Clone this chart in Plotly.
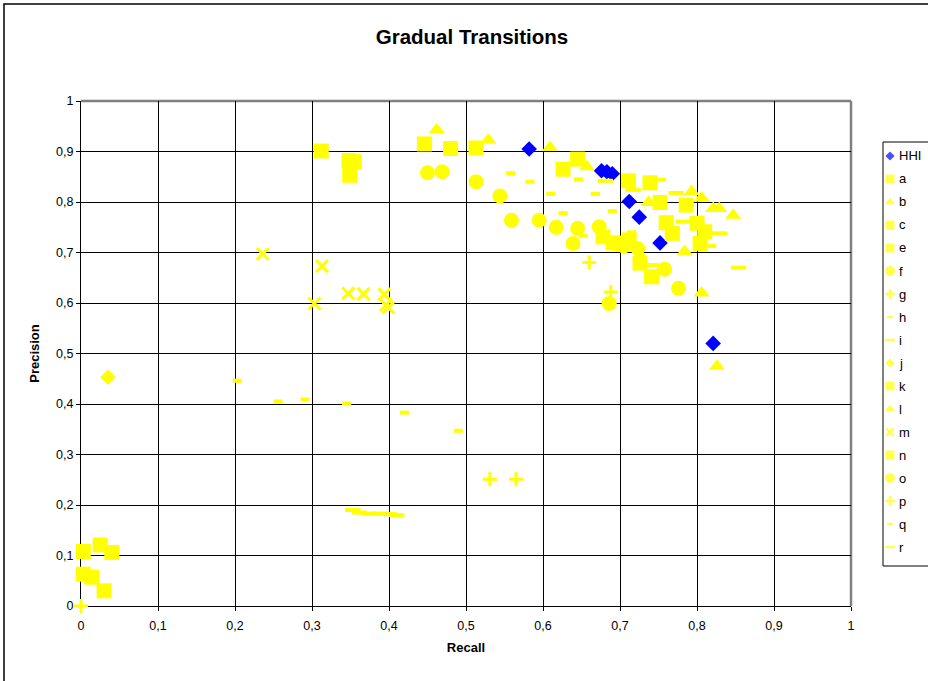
import plotly.graph_objects as go

# Recall / precision pairs per method
hhi_recall = [0.582, 0.676, 0.683, 0.690, 0.712, 0.725, 0.752, 0.821]
hhi_precision = [0.905, 0.862, 0.860, 0.856, 0.801, 0.770, 0.719, 0.520]

a_recall = [0.446, 0.480, 0.513, 0.626, 0.645]
a_precision = [0.915, 0.906, 0.907, 0.865, 0.885]

b_recall = [0.462, 0.529, 0.609, 0.657, 0.737]
b_precision = [0.943, 0.923, 0.908, 0.870, 0.799]

c_recall = [0.312, 0.348, 0.355, 0.349]
c_precision = [0.901, 0.882, 0.880, 0.853]

e_recall = [0.711, 0.739, 0.752, 0.786, 0.800, 0.810, 0.804]
e_precision = [0.842, 0.838, 0.799, 0.794, 0.758, 0.741, 0.718]

f_recall = [0.450, 0.469, 0.513, 0.544, 0.559, 0.595]
f_precision = [0.858, 0.860, 0.840, 0.812, 0.764, 0.764]

g_recall = [0.660, 0.688]
g_precision = [0.680, 0.622]

h_recall = [0.203, 0.256, 0.291, 0.345, 0.420, 0.490]
h_precision = [0.446, 0.405, 0.409, 0.401, 0.383, 0.347]

i_recall = [0.353, 0.362, 0.375, 0.388, 0.400, 0.410]
i_precision = [0.190, 0.185, 0.183, 0.183, 0.182, 0.180]

j_recall = [0.035]
j_precision = [0.453]

k_recall = [0.003, 0.025, 0.040, 0.003, 0.014, 0.030]
k_precision = [0.108, 0.121, 0.106, 0.063, 0.057, 0.030]

l_recall = [0.793, 0.806, 0.821, 0.829, 0.847, 0.784, 0.806, 0.826]
l_precision = [0.821, 0.808, 0.787, 0.787, 0.774, 0.702, 0.620, 0.475]

m_recall = [0.236, 0.313, 0.303, 0.347, 0.367, 0.394, 0.396, 0.399]
m_precision = [0.697, 0.673, 0.599, 0.619, 0.618, 0.617, 0.596, 0.591]

n_recall = [0.678, 0.691, 0.700, 0.712, 0.726, 0.741, 0.760, 0.768]
n_precision = [0.731, 0.719, 0.718, 0.725, 0.679, 0.652, 0.759, 0.738]

o_recall = [0.617, 0.645, 0.639, 0.673, 0.686, 0.705, 0.723, 0.726, 0.758, 0.776]
o_precision = [0.750, 0.748, 0.718, 0.751, 0.599, 0.713, 0.708, 0.685, 0.667, 0.629]

p_recall = [0.0, 0.531, 0.565]
p_precision = [0.0, 0.251, 0.251]

q_recall = [0.558, 0.583, 0.610, 0.626, 0.646, 0.668, 0.690, 0.652, 0.715]
q_precision = [0.857, 0.840, 0.816, 0.778, 0.845, 0.816, 0.782, 0.733, 0.740]

r_recall = [0.681, 0.717, 0.750, 0.773, 0.782, 0.829, 0.815, 0.854, 0.741]
r_precision = [0.842, 0.824, 0.844, 0.818, 0.761, 0.738, 0.713, 0.670, 0.675]

YELLOW = "#FFFF00"
BLUE = "#0000FF"
FONT = "Arial, Liberation Sans, sans-serif"

# name, x, y, symbol, plot size, legend size, colour, stroke width
series = [
    ("HHI", hhi_recall, hhi_precision, "diamond", 12, 7, BLUE, 0),
    ("a", a_recall, a_precision, "square", 15, 9, YELLOW, 0),
    ("b", b_recall, b_precision, "triangle-up", 14, 9, YELLOW, 0),
    ("c", c_recall, c_precision, "square", 15, 9, YELLOW, 0),
    ("e", e_recall, e_precision, "square", 15, 9, YELLOW, 0),
    ("f", f_recall, f_precision, "circle", 15, 10, YELLOW, 0),
    ("g", g_recall, g_precision, "cross-thin-open", 10, 7, YELLOW, 3),
    ("h", h_recall, h_precision, "line-ew-open", 6.5, 4, YELLOW, 4),
    ("i", i_recall, i_precision, "line-ew-open", 11, 7, YELLOW, 4),
    ("j", j_recall, j_precision, "diamond", 12, 7, YELLOW, 0),
    ("k", k_recall, k_precision, "square", 15, 9, YELLOW, 0),
    ("l", l_recall, l_precision, "triangle-up", 14, 9, YELLOW, 0),
    ("m", m_recall, m_precision, "x-thin-open", 12, 7, YELLOW, 3),
    ("n", n_recall, n_precision, "square", 15, 9, YELLOW, 0),
    ("o", o_recall, o_precision, "circle", 15, 10, YELLOW, 0),
    ("p", p_recall, p_precision, "cross-thin-open", 10, 7, YELLOW, 3),
    ("q", q_recall, q_precision, "line-ew-open", 6.5, 4, YELLOW, 4),
    ("r", r_recall, r_precision, "line-ew-open", 11, 7, YELLOW, 4),
]

W, H = 928, 681
L, T, B = 81, 101, 75          # margins (right margin is zero; legend lives in the right strip)
PLOT_W = W - L                 # 847
MAIN_W = 770                   # width of the scatter area
PLOT_H = H - T - B             # 505

TICK_SIZE = 12.5
LABEL_SIZE = 13

fig = go.Figure()
for name, xs, ys, symbol, size, _, color, lw in series:
    marker = dict(symbol=symbol, size=size, color=color,
                  line=dict(color=color, width=lw))
    fig.add_trace(go.Scatter(
        x=xs, y=ys, mode="markers", name=name, marker=marker,
        cliponaxis=False, showlegend=False, xaxis="x", yaxis="y",
    ))

# Legend drawn on its own small axis pair: one symbol per row, label beside it
n_items = len(series)
row_idx = list(range(n_items))
fig.add_trace(go.Scatter(
    x=[7] * n_items, y=row_idx, mode="markers",
    marker=dict(
        symbol=[s[3] for s in series],
        size=[s[5] for s in series],
        color=[s[6] for s in series],
        line=dict(color=[s[6] for s in series],
                  width=[min(s[7], 2.5) for s in series]),
    ),
    cliponaxis=False, showlegend=False, hoverinfo="skip",
    xaxis="x2", yaxis="y2",
))
for idx, s in enumerate(series):
    fig.add_annotation(
        x=14, y=idx, xref="x2", yref="y2", text=s[0], showarrow=False,
        xanchor="left", yanchor="middle",
        font=dict(family=FONT, size=LABEL_SIZE, color="#000000"),
    )

axis_common = dict(
    range=[0, 1], dtick=0.1, tick0=0,
    showgrid=True, gridcolor="#000000", gridwidth=1,
    showline=True, linecolor="#000000", linewidth=1,
    ticks="outside", ticklen=4, tickcolor="#000000",
    tickfont=dict(family=FONT, size=TICK_SIZE, color="#000000"),
    zeroline=False, mirror=False, layer="below traces",
)

legend_top, legend_bottom = 142, 566
row_gap = 23.0
first_row = 14.0
leg_box_h = legend_bottom - legend_top
y2_top = -first_row / row_gap
y2_bottom = y2_top + leg_box_h / row_gap

fig.update_layout(
    width=W, height=H,
    paper_bgcolor="#FFFFFF", plot_bgcolor="#FFFFFF",
    separators=",.",
    margin=dict(l=L, r=0, t=T, b=B, autoexpand=False),
    showlegend=False,
    title=dict(text="<b>Gradual Transitions</b>", xref="container", x=472 / W,
               xanchor="center", y=1 - 37 / H, yanchor="middle",
               font=dict(family=FONT, size=20.5, color="#000000")),
    xaxis=dict(axis_common, domain=[0, MAIN_W / PLOT_W], ticklabelstandoff=4,
               title=dict(text="<b>Recall</b>", standoff=10,
                          font=dict(family=FONT, size=LABEL_SIZE, color="#000000"))),
    yaxis=dict(axis_common,
               title=dict(text="<b>Precision</b>", standoff=13,
                          font=dict(family=FONT, size=LABEL_SIZE, color="#000000"))),
    xaxis2=dict(domain=[(883 - L) / PLOT_W, 1.0], range=[0, W - 883],
                visible=False, anchor="y2", fixedrange=True),
    yaxis2=dict(domain=[(606 - legend_bottom) / PLOT_H, (606 - legend_top) / PLOT_H],
                range=[y2_bottom, y2_top], visible=False, anchor="x2", fixedrange=True),
)

# Plot area frame (grey top/right edges)
fig.add_shape(type="line", xref="x domain", yref="y domain", x0=0, y0=1, x1=1, y1=1,
              line=dict(color="#808080", width=2.5), layer="below")
fig.add_shape(type="line", xref="x domain", yref="y domain", x0=1, y0=0, x1=1, y1=1,
              line=dict(color="#808080", width=2.5), layer="below")
# Legend frame
fig.add_shape(type="rect", xref="x2 domain", yref="y2 domain", x0=0, y0=0, x1=1.2, y1=1,
              line=dict(color="#000000", width=1), layer="below")
# Outer chart border
fig.add_shape(type="rect", xref="paper", yref="paper",
              x0=(4 - L) / PLOT_W, y0=(606 - 700) / PLOT_H,
              x1=(940 - L) / PLOT_W, y1=(606 - 4) / PLOT_H,
              line=dict(color="#000000", width=1.5), layer="below")

fig.write_html("out.html")
